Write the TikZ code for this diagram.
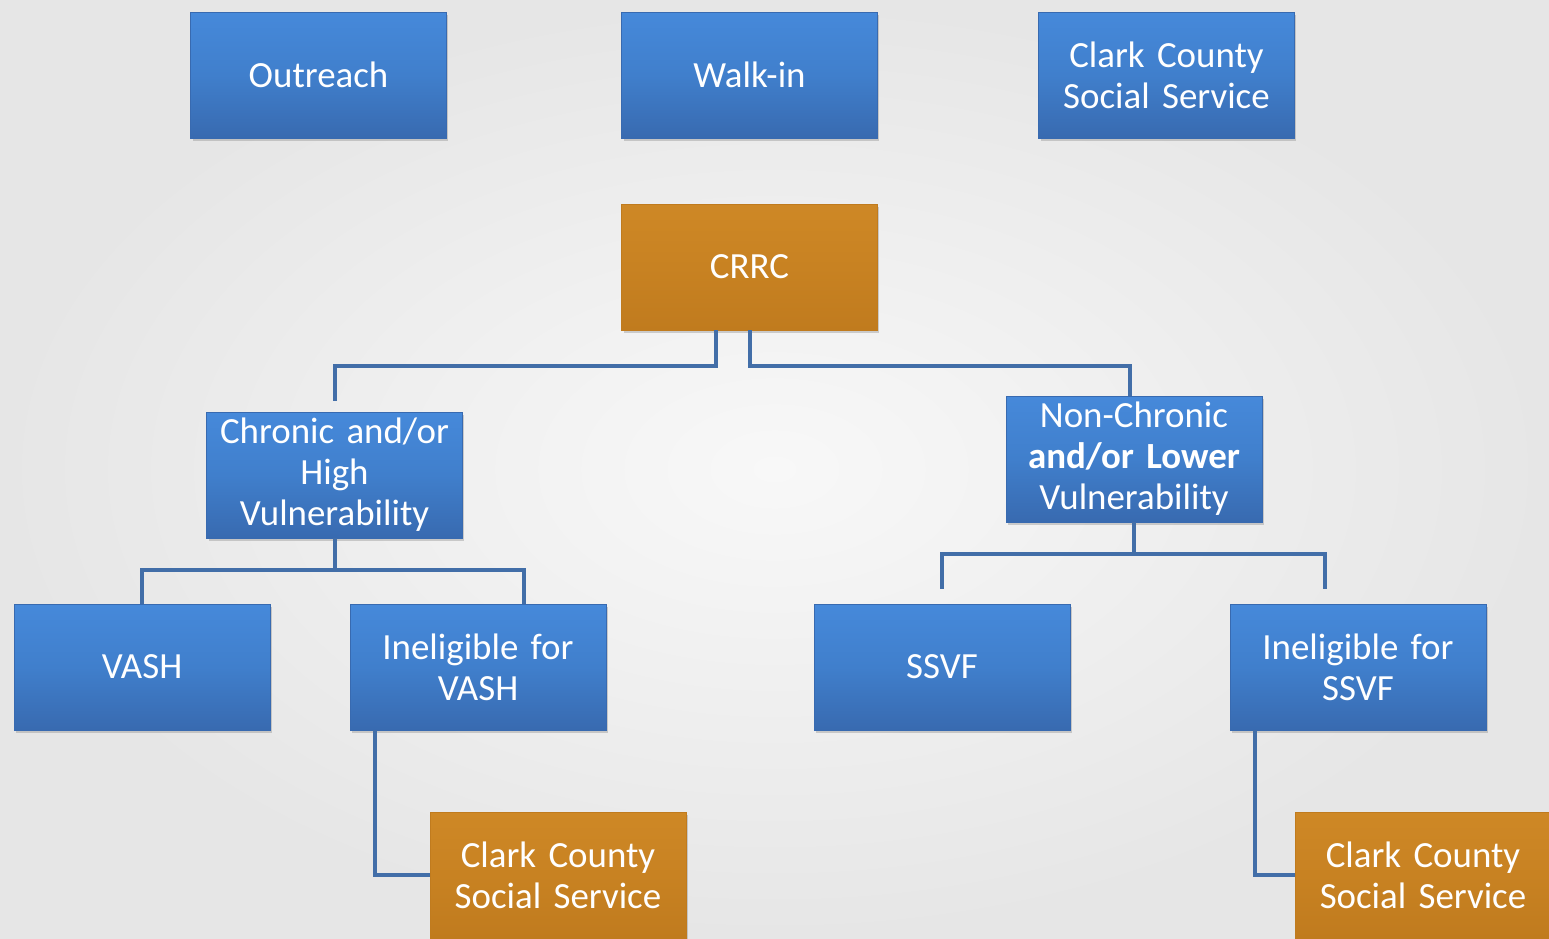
\documentclass[tikz,border=0pt]{standalone}
\usepackage{fontspec}
\setmainfont{Carlito}
\usetikzlibrary{shadows}
\definecolor{boxblue}{RGB}{64,127,204}
\definecolor{boxbluetop}{RGB}{70,137,218}
\definecolor{boxbluebot}{RGB}{56,106,176}
\definecolor{boxorange}{RGB}{200,130,34}
\definecolor{boxorangetop}{RGB}{206,136,38}
\definecolor{boxorangebot}{RGB}{192,123,30}
\definecolor{linkblue}{RGB}{66,110,168}
\definecolor{bgin}{RGB}{248,248,248}
\definecolor{bgout}{RGB}{230,230,230}
\tikzstyle{block} = [rectangle, minimum width=5.12cm, minimum height=2.52cm, text width=4.72cm, inner xsep=0.18cm, align=center, text=white, font=\fontsize{21}{23.3}\selectfont, drop shadow={shadow xshift=0.04cm, shadow yshift=-0.06cm, opacity=0.35}]
\tikzstyle{blockblue} = [block, draw=boxbluebot, top color=boxbluetop, bottom color=boxbluebot, middle color=boxblue]
\tikzstyle{blockorange} = [block, draw=boxorangebot, top color=boxorangetop, bottom color=boxorangebot, middle color=boxorange]
\tikzstyle{line} = [linkblue, line width=0.08cm]
\begin{document}
\begin{tikzpicture}[x=0.02cm, y=-0.02cm]
\useasboundingbox (0,0) rectangle (1549,938);
\shade[inner color=bgin, outer color=bgout] (0,0) rectangle (1549,938);

\node (outreach) [blockblue] at (318.5,75) {Outreach};
\node (walkin) [blockblue] at (749.5,75) {Walk-in};
\node (clarktop) [blockblue] at (1166.5,75) {Clark County\\Social Service};
\node (crrc) [blockorange] at (749.5,267) {CRRC};
\node (chronic) [blockblue] at (334.5,475) {Chronic and/or\\High\\Vulnerability};
\node (nonchronic) [blockblue] at (1134,459) {Non-Chronic\\\textbf{and/or Lower}\\Vulnerability};
\node (vash) [blockblue] at (142,667) {VASH};
\node (novash) [blockblue] at (478,667) {Ineligible for\\VASH};
\node (ssvf) [blockblue] at (942,667) {SSVF};
\node (nossvf) [blockblue] at (1358,667) {Ineligible for\\SSVF};
\node (clarkleft) [blockorange] at (558,875) {Clark County\\Social Service};
\node (clarkright) [blockorange] at (1423,875) {Clark County\\Social Service};

\draw [line] ([xshift=-0.68cm]crrc.south) -- ++(0,36) -| ([yshift=0.22cm]chronic.north);
\draw [line] (crrc.south) -- ++(0,36) -| ([xshift=-0.08cm]nonchronic.north);
\draw [line] (chronic.south) -- ++(0,32) -| (vash.north);
\draw [line] (chronic.south) -- ++(0,32) -| ([xshift=0.92cm]novash.north);
\draw [line] (nonchronic.south) -- ++(0,32) -| ([yshift=0.3cm]ssvf.north);
\draw [line] (nonchronic.south) -- ++(0,32) -| ([xshift=-0.66cm, yshift=0.3cm]nossvf.north);
\draw [line] ([xshift=-2.06cm]novash.south) |- (clarkleft.west);
\draw [line] ([xshift=-2.06cm]nossvf.south) |- (clarkright.west);

\end{tikzpicture}
\end{document}
